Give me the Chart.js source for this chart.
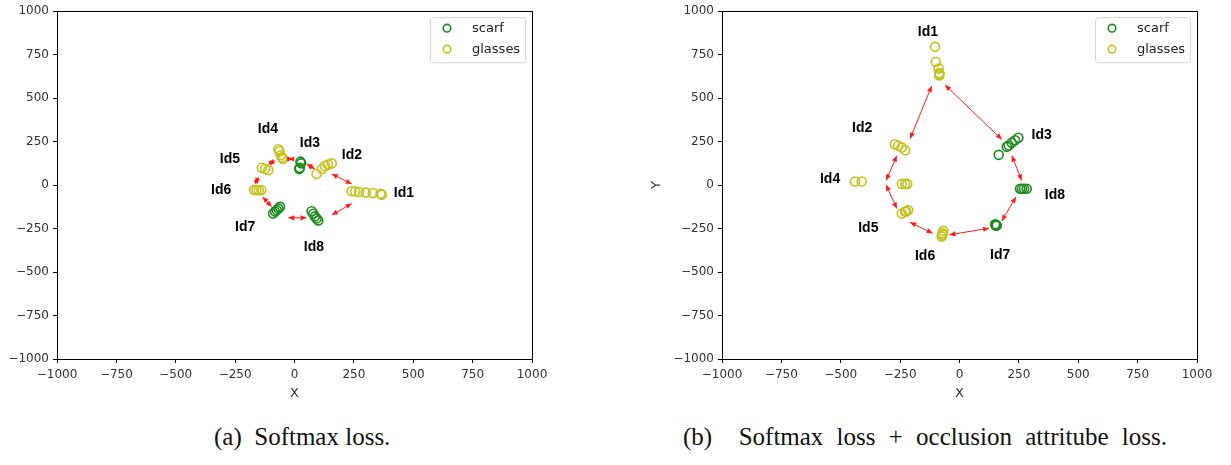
<!DOCTYPE html>
<html>
<head>
<meta charset="utf-8">
<script src="https://cdn.jsdelivr.net/npm/chart.js@4.4.1/dist/chart.umd.min.js"></script>
<style>
  html,body{margin:0;padding:0;background:#fff;}
  body{width:1231px;height:465px;position:relative;overflow:hidden;}
  #wa{position:absolute;left:0;top:0;width:610px;height:410px;}
  #wb{position:absolute;left:615px;top:0;width:616px;height:410px;}
  .cap{position:absolute;top:423px;font-family:"Liberation Serif","DejaVu Serif",serif;font-size:25px;color:#111;white-space:pre;}
</style>
</head>
<body>
<div id="wa"><canvas id="ca"></canvas></div>
<div id="wb"><canvas id="cb"></canvas></div>
<div class="cap" style="left:214px">(a)  Softmax loss.</div>
<div class="cap" style="left:683px;word-spacing:7px">(b)  Softmax loss + occlusion attritube loss.</div>
<script>
// ---------- data (a) Softmax loss ----------
const scarfA_x = [25, 28, 22, 20, -90, -82, -75, -68, -61, 72, 79, 86, 93, 100];
const scarfA_y = [135, 125, 100, 92, -163, -152, -144, -135, -125, -150, -165, -180, -192, -203];
const glassesA_x = [240, 255, 272, 300, 330, 362, 368, 93, 115, 128, 141, 157, -68, -63, -58, -52, -48, -138, -124, -110, -170, -160, -150, -140];
const glassesA_y = [-35, -37, -40, -43, -46, -50, -55, 64, 93, 110, 118, 125, 206, 195, 172, 158, 150, 100, 93, 85, -28, -28, -30, -28];
const idNamesA = ['Id1', 'Id2', 'Id3', 'Id4', 'Id5', 'Id6', 'Id7', 'Id8'];
const idA_x = [461, 242, 65, -112, -272, -309, -208, 82];
const idA_y = [-45, 170, 239, 322, 148, -28, -244, -358];
// arrows: [x1, y1, x2, y2]
const arrowsA = [
  [157, 64, 241, 7],
  [241, -106, 157, -172],
  [-26, -188, 51, -188],
  [-134, -68, -96, -125],
  [-152, 45, -166, 7],
  [-110, 121, -82, 140],
  [-26, 150, -5, 150],
  [51, 121, 86, 93]
];

// ---------- data (b) Softmax loss + occlusion attribute loss ----------
const scarfB_x = [165, 199, 207, 220, 234, 248, 255, 263, 272, 283, 150, 154, 157, 152];
const scarfB_y = [174, 220, 228, 244, 258, 272, -21, -21, -21, -21, -225, -229, -233, -232];
const glassesB_x = [-103, -100, -88, -85, -85, -84, -272, -258, -243, -229, -440, -412, -243, -229, -220, -243, -229, -216, -225, -75, -71, -68, -72];
const glassesB_y = [795, 708, 670, 645, 630, 638, 235, 226, 216, 200, 21, 21, 7, 7, 7, -163, -153, -144, -150, -295, -277, -263, -285];
const idNamesB = ['Id1', 'Id2', 'Id3', 'Id4', 'Id5', 'Id6', 'Id7', 'Id8'];
const idB_x = [-133, -410, 346, -545, -384, -145, 171, 402];
const idB_y = [880, 330, 286, 32, -248, -409, -400, -59];
const arrowsB = [
  [-117, 570, -208, 267],
  [-61, 576, 178, 263],
  [-264, 169, -309, 27],
  [-309, 2, -264, -135],
  [-208, -214, -113, -277],
  [-43, -286, 125, -248],
  [178, -206, 238, -68],
  [262, 27, 220, 169]
];

const axisMin = -1000, axisMax = 1000, axisStep = 250;
const seriesNames = ['scarf', 'glasses'];
const GREEN = '#1f8a1f';
const YELLOW = '#c2c21a';

function pts(xs, ys) { return xs.map((x, i) => ({x: x, y: ys[i]})); }

function drawArrowHead(ctx, x1, y1, x2, y2) {
  const a = Math.atan2(y2 - y1, x2 - x1);
  const L = 6, W = 2.6;
  ctx.beginPath();
  ctx.moveTo(x2, y2);
  ctx.lineTo(x2 - L * Math.cos(a) + W * Math.sin(a), y2 - L * Math.sin(a) - W * Math.cos(a));
  ctx.lineTo(x2 - L * Math.cos(a) - W * Math.sin(a), y2 - L * Math.sin(a) + W * Math.cos(a));
  ctx.closePath();
  ctx.fill();
}

function makeOverlay(names, lx, ly, arrows) {
  return {
    id: 'overlay',
    afterDatasetsDraw(chart) {
      const ctx = chart.ctx, xs = chart.scales.x, ys = chart.scales.y, a = chart.chartArea;
      ctx.save();
      // arrows
      ctx.strokeStyle = '#ff1a1a'; ctx.fillStyle = '#ff1a1a'; ctx.lineWidth = 1;
      arrows.forEach(r => {
        const x1 = xs.getPixelForValue(r[0]), y1 = ys.getPixelForValue(r[1]);
        const x2 = xs.getPixelForValue(r[2]), y2 = ys.getPixelForValue(r[3]);
        ctx.beginPath(); ctx.moveTo(x1, y1); ctx.lineTo(x2, y2); ctx.stroke();
        drawArrowHead(ctx, x1, y1, x2, y2);
        drawArrowHead(ctx, x2, y2, x1, y1);
      });
      // id labels
      ctx.fillStyle = '#000';
      ctx.font = 'bold 14px "Liberation Sans", Arial, sans-serif';
      ctx.textAlign = 'center'; ctx.textBaseline = 'middle';
      names.forEach((n, i) => ctx.fillText(n, xs.getPixelForValue(lx[i]), ys.getPixelForValue(ly[i])));
      // frame
      ctx.strokeStyle = '#000'; ctx.lineWidth = 1;
      ctx.strokeRect(Math.round(a.left) + 0.5, Math.round(a.top) + 0.5, Math.round(a.right - a.left), Math.round(a.bottom - a.top));
      // legend
      const bw = 95, bh = 45;
      const bx = a.right - 7 - bw, by = a.top + 6;
      ctx.fillStyle = 'rgba(255,255,255,0.85)';
      ctx.strokeStyle = '#d6d6d6';
      ctx.beginPath();
      if (ctx.roundRect) ctx.roundRect(bx + 0.5, by + 0.5, bw, bh, 3); else ctx.rect(bx + 0.5, by + 0.5, bw, bh);
      ctx.fill(); ctx.stroke();
      const cols = [GREEN, YELLOW];
      ctx.font = '13px "DejaVu Sans", sans-serif';
      ctx.textAlign = 'left'; ctx.textBaseline = 'middle';
      seriesNames.forEach((n, i) => {
        const yy = by + 11 + i * 21;
        ctx.strokeStyle = cols[i]; ctx.lineWidth = 1.6;
        ctx.beginPath(); ctx.arc(bx + 17, yy, 3.8, 0, Math.PI * 2); ctx.stroke();
        ctx.fillStyle = '#222';
        ctx.fillText(n, bx + 42, yy);
      });
      ctx.restore();
    }
  };
}

function makeChart(id, scarf, glasses, yWidth, padRight, yTitle, yTitlePad, overlay) {
  const tickFont = {family: '"DejaVu Sans", sans-serif', size: 12};
  const fmt = v => String(v).replace('-', '\u2212');
  return new Chart(document.getElementById(id), {
    type: 'scatter',
    data: {
      datasets: [
        {label: seriesNames[0], data: scarf, borderColor: GREEN, backgroundColor: 'rgba(0,0,0,0)', pointRadius: 4.5, pointBorderWidth: 1.6, pointHoverRadius: 4.5},
        {label: seriesNames[1], data: glasses, borderColor: YELLOW, backgroundColor: 'rgba(0,0,0,0)', pointRadius: 4.5, pointBorderWidth: 1.6, pointHoverRadius: 4.5}
      ]
    },
    options: {
      responsive: true, maintainAspectRatio: false, animation: false,
      layout: {padding: {top: 7, right: padRight, left: 0, bottom: 0}},
      plugins: {legend: {display: false}, tooltip: {enabled: false}},
      scales: {
        x: {
          type: 'linear', min: axisMin, max: axisMax,
          afterBuildTicks: s => { s.ticks = []; for (let v = axisMin; v <= axisMax; v += axisStep) s.ticks.push({value: v}); },
          afterFit: s => { s.height = 51; },
          ticks: {font: tickFont, color: '#333', padding: 5, maxRotation: 0, autoSkip: false, callback: fmt},
          grid: {drawOnChartArea: false, drawTicks: true, tickLength: 4, color: '#000'},
          border: {display: true, color: '#000', width: 1},
          title: {display: true, text: 'X', font: {family: '"DejaVu Sans", sans-serif', size: 13}, color: '#333', padding: {top: 0, bottom: 9}}
        },
        y: {
          type: 'linear', min: axisMin, max: axisMax,
          afterBuildTicks: s => { s.ticks = []; for (let v = axisMin; v <= axisMax; v += axisStep) s.ticks.push({value: v}); },
          afterFit: s => { s.width = yWidth; },
          ticks: {font: tickFont, color: '#333', padding: 4, autoSkip: false, callback: fmt},
          grid: {drawOnChartArea: false, drawTicks: true, tickLength: 4, color: '#000'},
          border: {display: true, color: '#000', width: 1},
          title: {display: !!yTitle, text: yTitle || '', font: {family: '"DejaVu Sans", sans-serif', size: 13}, color: '#333', padding: {top: yTitlePad, bottom: 0}}
        }
      }
    },
    plugins: [overlay]
  });
}

makeChart('ca', pts(scarfA_x, scarfA_y), pts(glassesA_x, glassesA_y), 57, 78, '', 0, makeOverlay(idNamesA, idA_x, idA_y, arrowsA));
makeChart('cb', pts(scarfB_x, scarfB_y), pts(glassesB_x, glassesB_y), 107, 34, 'Y', 34, makeOverlay(idNamesB, idB_x, idB_y, arrowsB));
</script>
</body>
</html>
